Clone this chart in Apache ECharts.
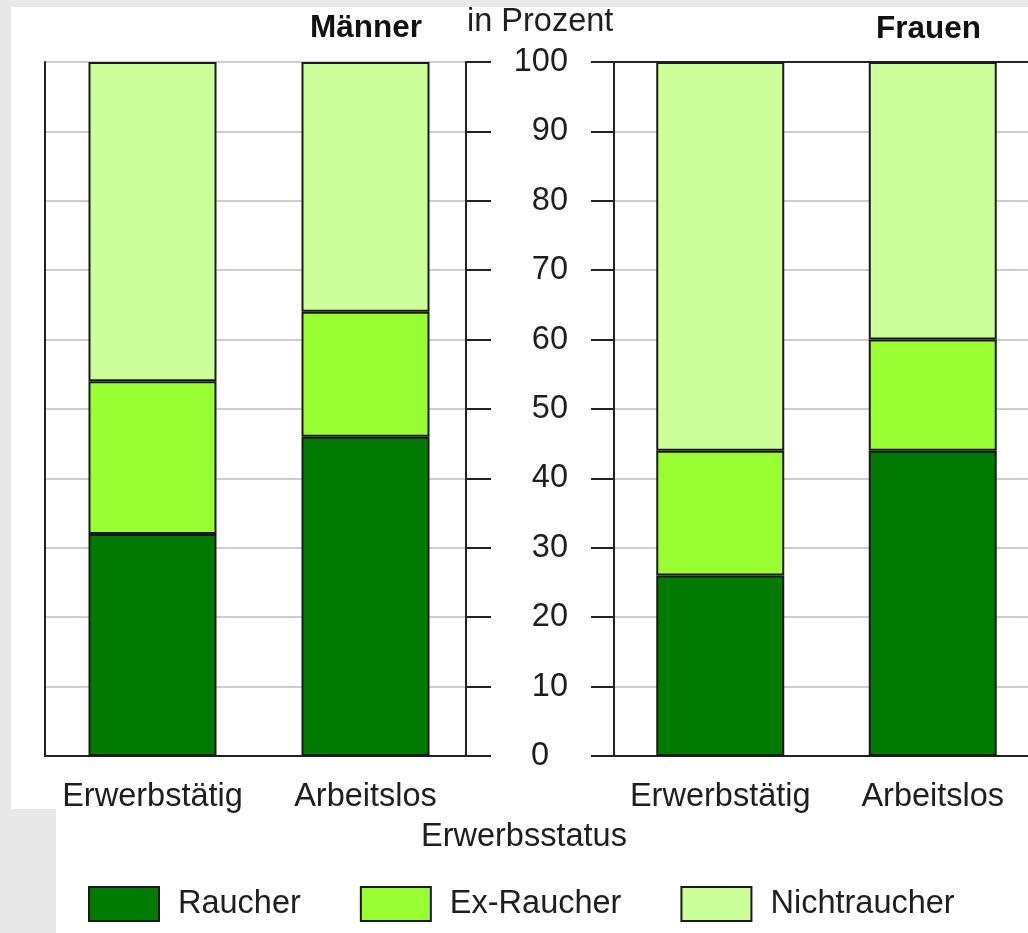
<!DOCTYPE html>
<html>
<head>
<meta charset="utf-8">
<script src="https://cdn.jsdelivr.net/npm/echarts@6/dist/echarts.min.js"></script>
<style>
  html, body { margin: 0; padding: 0; background: #e8e8e8; }
  #wrap { position: relative; width: 1028px; height: 933px; overflow: hidden; }
  .w { position: absolute; background: #ffffff; }
  #chart { position: absolute; left: 0; top: 0; width: 1042px; height: 933px; }
</style>
</head>
<body>
<div id="wrap">
  <div class="w" style="left:11px; top:7px; width:1017px; height:802px;"></div>
  <div class="w" style="left:56px; top:809px; width:972px; height:124px;"></div>
  <div id="chart"></div>
</div>
<script>
// ---- data ----
const categories = ['Erwerbstätig', 'Arbeitslos'];
const seriesNames = ['Raucher', 'Ex-Raucher', 'Nichtraucher'];
const maennerRaucher = [32, 46];
const maennerEx = [22, 18];
const maennerNicht = [46, 36];
const frauenRaucher = [26, 44];
const frauenEx = [18, 16];
const frauenNicht = [56, 40];
const yMin = 0, yMax = 100, yInterval = 10;
const panelTitles = ['Männer', 'Frauen'];
const yAxisTitle = 'in Prozent';
const xAxisTitle = 'Erwerbsstatus';

// ---- styles ----
const colors = ['#007a00', '#99ff33', '#ccff99'];
const FONT = '"Liberation Sans", Arial, sans-serif';
const FS = 32.5;
const TXT = '#1e1e1e';
const DARK = '#222222';
const GRIDC = '#cdcdcd';

const chart = echarts.init(document.getElementById('chart'), null, { renderer: 'canvas' });

const gTop = 62, gHeight = 694;

function barSeries(name, data, xi, yi, color) {
  return {
    name, type: 'bar', stack: 's' + xi, data,
    xAxisIndex: xi, yAxisIndex: yi, barWidth: 128,
    itemStyle: { color, borderColor: '#1a1a1a', borderWidth: 2 },
    emphasis: { disabled: true }
  };
}

const catLabel = { color: TXT, fontSize: FS, fontFamily: FONT, margin: 25, interval: 0 };

const option = {
  animation: false,
  textStyle: { fontFamily: FONT },
  grid: [
    { left: 45, top: gTop, width: 421, height: gHeight },   // 0: left frame + middle axis
    { left: 46, top: gTop, width: 426, height: gHeight },   // 1: left bars
    { left: 614, top: gTop, width: 425, height: gHeight }   // 2: right panel
  ],
  xAxis: [
    { gridIndex: 0, type: 'category', data: categories, position: 'bottom',
      axisLine: { show: true, lineStyle: { color: DARK, width: 2 } }, axisTick: { show: false }, axisLabel: { show: false } },
    { gridIndex: 0, type: 'category', data: categories, position: 'top',
      axisLine: { show: true, lineStyle: { color: DARK, width: 2 } }, axisTick: { show: false }, axisLabel: { show: false } },
    { gridIndex: 1, type: 'category', data: categories, position: 'bottom',
      axisLine: { show: false }, axisTick: { show: false }, axisLabel: catLabel },
    { gridIndex: 2, type: 'category', data: categories, position: 'bottom',
      axisLine: { show: true, lineStyle: { color: DARK, width: 2 } }, axisTick: { show: false }, axisLabel: catLabel },
    { gridIndex: 2, type: 'category', data: categories, position: 'top',
      axisLine: { show: true, lineStyle: { color: DARK, width: 2 } }, axisTick: { show: false }, axisLabel: { show: false } }
  ],
  yAxis: [
    { gridIndex: 0, type: 'value', min: yMin, max: yMax, interval: yInterval, position: 'left',
      axisLine: { show: true, lineStyle: { color: DARK, width: 2 } }, axisTick: { show: false }, axisLabel: { show: false },
      splitLine: { show: true, lineStyle: { color: GRIDC, width: 2 } } },
    { gridIndex: 0, type: 'value', min: yMin, max: yMax, interval: yInterval, position: 'right',
      axisLine: { show: true, lineStyle: { color: DARK, width: 2 } },
      axisTick: { show: true, inside: false, length: 25, lineStyle: { color: DARK, width: 2 } },
      axisLabel: {
        show: true, color: TXT, fontSize: FS, fontFamily: FONT, margin: 102, align: 'right',
        formatter: v => (v === 0 ? '{z|0}' : String(v)),
        rich: { z: { fontSize: FS, fontFamily: FONT, color: TXT, padding: [0, 19, 0, 0] } }
      },
      splitLine: { show: false } },
    { gridIndex: 1, type: 'value', min: yMin, max: yMax, interval: yInterval, show: false },
    { gridIndex: 2, type: 'value', min: yMin, max: yMax, interval: yInterval, position: 'left',
      axisLine: { show: true, lineStyle: { color: DARK, width: 2 } },
      axisTick: { show: true, inside: false, length: 23, lineStyle: { color: DARK, width: 2 } },
      axisLabel: { show: false },
      splitLine: { show: true, lineStyle: { color: GRIDC, width: 2 } } }
  ],
  legend: {
    left: 88, top: 886, padding: 0, itemWidth: 70, itemHeight: 34, itemGap: 59,
    icon: 'rect', data: seriesNames,
    textStyle: { color: TXT, fontSize: FS, fontFamily: FONT, padding: [0, 0, 0, 14] },
    selectedMode: false
  },
  graphic: [
    { type: 'text', left: 310, top: 12, style: { text: panelTitles[0], font: 'bold 31.5px ' + FONT, fill: '#111' } },
    { type: 'text', left: 467, top: 6, style: { text: yAxisTitle, font: FS + 'px ' + FONT, fill: TXT } },
    { type: 'text', left: 876, top: 13, style: { text: panelTitles[1], font: 'bold 31.5px ' + FONT, fill: '#111' } },
    { type: 'text', left: 421, top: 821, style: { text: xAxisTitle, font: FS + 'px ' + FONT, fill: TXT } }
  ],
  series: [
    barSeries(seriesNames[0], maennerRaucher, 2, 2, colors[0]),
    barSeries(seriesNames[1], maennerEx, 2, 2, colors[1]),
    barSeries(seriesNames[2], maennerNicht, 2, 2, colors[2]),
    barSeries(seriesNames[0], frauenRaucher, 3, 3, colors[0]),
    barSeries(seriesNames[1], frauenEx, 3, 3, colors[1]),
    barSeries(seriesNames[2], frauenNicht, 3, 3, colors[2])
  ]
};
chart.setOption(option);
</script>
</body>
</html>
